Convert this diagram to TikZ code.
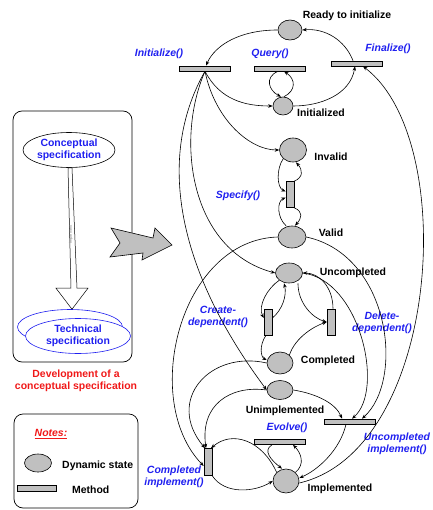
\documentclass[tikz,border=0pt]{standalone}
\usepackage{fontspec}
\setmainfont{Liberation Sans}
\usetikzlibrary{arrows.meta, shapes.geometric, calc}
\definecolor{statefill}{HTML}{C0C0C0}
\definecolor{methblue}{HTML}{2020F0}
\definecolor{notered}{HTML}{F01818}
\newcommand{\figfont}{\fontsize{10.5}{12}\selectfont}
\tikzset{
  state/.style  = {ellipse, draw, fill=statefill, inner sep=0pt, line width=0.6bp},
  hbar/.style   = {rectangle, draw, fill=statefill, inner sep=0pt, line width=0.6bp,
                   minimum width=51bp, minimum height=5bp},
  vbar/.style   = {rectangle, draw, fill=statefill, inner sep=0pt, line width=0.6bp,
                   minimum width=8bp, minimum height=26bp},
  lbl/.style    = {font=\figfont\bfseries, inner sep=0pt, align=center},
  mlbl/.style   = {font=\figfont\bfseries\itshape, text=methblue, inner sep=0pt, align=center},
  redlbl/.style = {font=\figfont\bfseries, text=notered, inner sep=0pt, align=center},
  specell/.style= {ellipse, draw, fill=white, line width=0.6bp, font=\figfont\bfseries,
                   text=methblue, inner sep=0pt, align=center, minimum width=92bp, minimum height=35bp},
  trans/.style  = {-{Stealth[length=4.5bp, width=3.5bp]}, line width=0.6bp},
  frame/.style  = {rounded corners=9bp, line width=0.7bp},
}
\begin{document}
\begin{tikzpicture}[x=1bp, y=-1bp, font=\figfont]
\useasboundingbox (0,0) rectangle (432,510);

% dynamic states
\node[state, minimum width=24bp, minimum height=20bp] (rdy)   at (290,30)  {};
\node[state, minimum width=20bp, minimum height=18bp] (inzd)  at (283,106) {};
\node[state, minimum width=27bp, minimum height=24bp] (inv)   at (293,150) {};
\node[state, minimum width=28bp, minimum height=22bp] (val)   at (292,237) {};
\node[state, minimum width=27bp, minimum height=20bp] (unc)   at (289,273) {};
\node[state, minimum width=26bp, minimum height=22bp] (cmp)   at (280,363) {};
\node[state, minimum width=26bp, minimum height=19bp] (unimp) at (280,390) {};
\node[state, minimum width=26bp, minimum height=24bp] (impl)  at (286,481) {};

% methods
\node[hbar] (init)  at (205,68.5)  {};
\node[hbar] (query) at (280,68.5)  {};
\node[hbar] (final) at (357,63.5)  {};
\node[vbar] (spec)  at (290,194.5) {};
\node[vbar] (cdep)  at (268,322)   {};
\node[vbar] (ddep)  at (331,322)   {};
\node[hbar] (uimp)  at (350,421.5) {};
\node[hbar] (evo)   at (280,442)   {};
\node[vbar, minimum height=27bp] (cimp) at (208,462) {};

% labels
\node[lbl]  (rdyt)   at (347,16)  {Ready to initialize};
\node[mlbl] (initt)  at (159,54)  {Initialize()};
\node[mlbl] (queryt) at (270,54)  {Query()};
\node[mlbl] (finalt) at (388,49)  {Finalize()};
\node[lbl]  (inzdt)  at (321,113) {Initialized};
\node[lbl]  (invt)   at (331,157) {Invalid};
\node[mlbl] (spect)  at (238,196) {Specify()};
\node[lbl]  (valt)   at (331,233) {Valid};
\node[lbl]  (unct)   at (353,273) {Uncompleted};
\node[mlbl] (cdept)  at (218,317) {Create-\\dependent()};
\node[mlbl] (ddept)  at (382,323) {Delete-\\dependent()};
\node[lbl]  (cmpt)   at (328,361) {Completed};
\node[lbl]  (unimpt) at (285,411) {Unimplemented};
\node[mlbl] (evot)   at (287,428) {Evolve()};
\node[mlbl] (uimpt)  at (397,444) {Uncompleted\\implement()};
\node[mlbl] (cimpt)  at (174,477) {Completed\\implement()};
\node[lbl]  (implt)  at (340,489) {Implemented};

% initialize / query / finalize
\draw[trans] (rdy.west) .. controls (240,30) and (215,45) .. ([xshift=1]init.north);
\draw[trans] ([xshift=-4]final.north) .. controls (345,40) and (325,28) .. (rdy.east);
\draw[trans] (init.south) .. controls (220,100) and (245,106) .. (inzd.west);
\draw[trans] (inzd.east) .. controls (320,106) and (350,95) .. ([xshift=-2]final.south);
\draw[trans] ([xshift=-2]query.south) .. controls +(-14,6) and +(-12,-6) .. ([xshift=-2]inzd.north);
\draw[trans] ([xshift=1]inzd.north) .. controls +(12,-6) and +(12,8) .. ([xshift=4]query.south);
\draw[trans] (init.south) .. controls (215,120) and (250,150) .. (inv.west);
\draw[trans] (init.south) .. controls (175,140) and (190,250) .. (unc.west);
\draw[trans] (init.south) .. controls (160,150) and (170,260) .. (unimp.west);

% specify
\draw[trans] (inv.south west) .. controls +(-7,10) and +(-9,-4) .. ([yshift=3]spec.west);
\draw[trans] ([xshift=-6]val.north) .. controls +(-9,-8) and +(-9,4) .. ([yshift=-3]spec.west);
\draw[trans] (spec.north east) .. controls +(9,-4) and +(7,8) .. ([xshift=3]inv.south);
\draw[trans] (spec.south east) .. controls +(9,4) and +(7,-8) .. ([xshift=3]val.north);

% create / delete dependent
\draw[trans] (unc.south west) .. controls +(-12,8) and +(-6,-12) .. ([yshift=4]cdep.west);
\draw[trans] ([yshift=4]cdep.east) .. controls +(10,-8) and +(3,12) .. ([xshift=-5]unc.south);
\draw[trans] ([xshift=-2]cdep.south) .. controls +(-7,10) and +(-6,-3) .. ([yshift=3]cmp.west);
\draw[trans] ([xshift=9]unc.south) .. controls +(0,20) and +(-14,-4) .. (ddep.west);
\draw[trans] (cmp.north east) .. controls +(6,-18) and +(-12,4) .. (ddep.west);
\draw[trans] ([xshift=2]ddep.north) .. controls +(0,-22) and +(16,0) .. (unc.east);

% implement
\draw[trans] (val.west) .. controls (180,240) and (140,400) .. ([yshift=-4]cimp.west);
\draw[trans] (cmp.west) .. controls (210,350) and (165,400) .. ([xshift=-3]cimp.north);
\draw[trans] (unimp.west) .. controls (230,385) and (200,405) .. ([xshift=-2]cimp.north);
\draw[trans] (impl.north west) .. controls (262,440) and (232,430) .. ([xshift=3]cimp.north);
\draw[trans] (cimp.south east) .. controls (225,495) and (255,492) .. (impl.west);
\draw[trans] (val.east) .. controls (390,255) and (405,380) .. ([xshift=12]uimp.north);
\draw[trans] (unc.east) .. controls (360,280) and (385,390) .. ([xshift=2]uimp.north);
\draw[trans] (unimp.east) .. controls (318,394) and (336,404) .. ([xshift=-8]uimp.north);
\draw[trans] ([xshift=-4]uimp.south) .. controls (340,450) and (318,470) .. ([yshift=3]impl.east);
\draw[trans] ([yshift=-2]impl.east) .. controls (440,450) and (460,140) .. ([xshift=6]final.south);

% evolve
\draw[trans] ([xshift=-8]evo.south) .. controls +(-10,6) and +(-10,-8) .. ([xshift=-4]impl.north);
\draw[trans] (impl.north east) .. controls +(10,-8) and +(8,8) .. ([xshift=13]evo.south);

% development panel
\draw[frame] (13,111) rectangle (132,362);
\node[specell] (cs) at (69,150) {Conceptual\\specification};
\node[specell, draw=methblue, minimum width=105bp] (ts0) at (70,327) {};
\node[specell, draw=methblue, minimum width=105bp] (ts)  at (78,336) {Technical\\specification};
\coordinate (ia) at ([xshift=1]cs.south);
\coordinate (ib) at ([xshift=2]ts0.north);
\draw[fill=white, line width=0.5bp] ($(ia)+(-2,0)$) -- ($(ib)+(-1,-21)$) -- ($(ib)+(-16,-21)$)
  -- (ib) -- ($(ib)+(16,-21)$) -- ($(ib)+(5,-21)$) -- ($(ia)+(2,0)$) -- cycle;
\node[rotate=90, font=\fontsize{4}{4}\selectfont, text=gray, inner sep=0pt] (ilbl)
  at ($(ia)!0.47!(ib)$) {implement};
\node[redlbl] (dev) at (76,381) {Development of a\\conceptual specification};

% big arrow
\draw[fill=statefill, line width=0.6bp] (111,228) -- (153,238) -- (155,228) -- (172,245)
  -- (142,260) -- (143,253) -- (110,257) -- (120,243) -- cycle;

% notes
\draw[frame] (14,414) rectangle (138,508);
\node[redlbl, font=\figfont\bfseries\itshape] (notes) at (51,434) {\underline{Notes:}};
\node[state, minimum width=27bp, minimum height=18bp] (lgst) at (38,463) {};
\node[lbl, anchor=west] (lgstt) at (62,466) {Dynamic state};
\node[hbar, minimum width=39bp, minimum height=6bp] (lgm) at (37,488) {};
\node[lbl, anchor=west] (lgmt) at (72,490) {Method};
\end{tikzpicture}
\end{document}
